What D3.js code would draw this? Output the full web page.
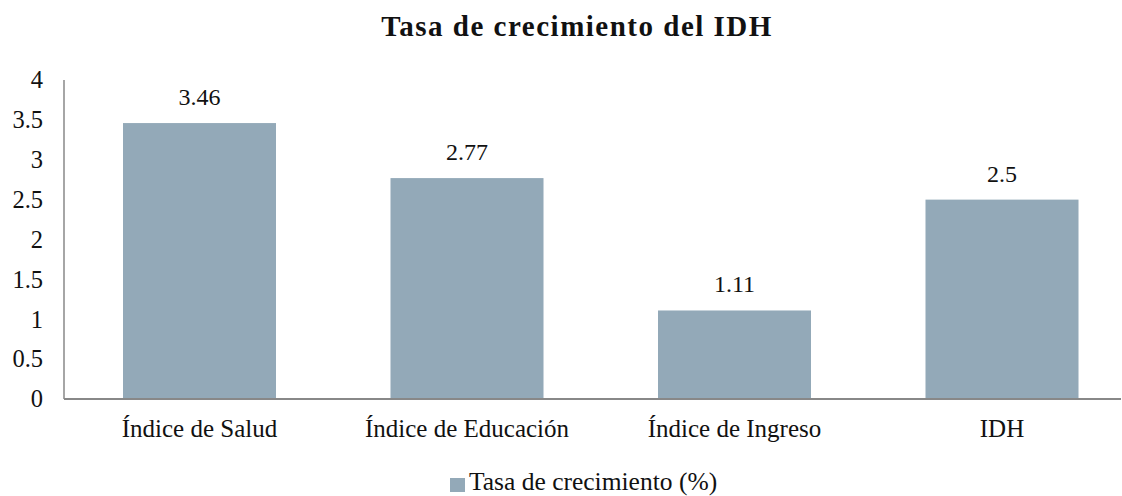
<!DOCTYPE html>
<html>
<head>
<meta charset="utf-8">
<script src="https://cdn.jsdelivr.net/npm/d3@7"></script>
<style>
    body { margin: 0; background: #fff; }
</style>
</head>
<body>
<svg id="chart" width="1122" height="496"></svg>
<script>
(function() {
    'use strict';

    var categories = ['Índice de Salud', 'Índice de Educación', 'Índice de Ingreso', 'IDH'];
    var values = [3.46, 2.77, 1.11, 2.5];
    var yTicks = [0, 0.5, 1, 1.5, 2, 2.5, 3, 3.5, 4];
    var seriesName = 'Tasa de crecimiento (%)';
    var title = 'Tasa de crecimiento del IDH';

    var FONT = "'Liberation Serif', 'Times New Roman', 'DejaVu Serif', serif";

    var svg = d3.select('#chart')
        .style('font-family', FONT);

    /******************************************************************
        scales
     ******************************************************************/
    var x = d3.scaleBand()
        .domain(categories)
        .range([65.75, 1135.75])
        .paddingInner(0.428)
        .paddingOuter(0.214);

    var y = d3.scaleLinear()
        .domain([0, 4])
        .range([399, 80]);

    // title
    svg.append('text')
        .attr('x', 577)
        .attr('y', 36)
        .attr('text-anchor', 'middle')
        .style('font-family', FONT)
        .style('font-size', '29px')
        .style('font-weight', 'bold')
        .style('letter-spacing', '1.5px')
        .style('fill', '#111')
        .text(title);

    // bars
    svg.append('g').selectAll('rect')
        .data(values)
        .join('rect')
            .attr('x', function(d, i) { return x(categories[i]); })
            .attr('y', function(d) { return y(d); })
            .attr('width', x.bandwidth())
            .attr('height', function(d) { return y(0) - y(d); })
            .style('fill', '#93a9b8');

    // value labels
    svg.append('g').selectAll('text')
        .data(values)
        .join('text')
            .attr('x', function(d, i) { return x(categories[i]) + x.bandwidth() / 2; })
            .attr('y', function(d) { return y(d) - 18; })
            .attr('text-anchor', 'middle')
            .style('font-family', FONT)
            .style('font-size', '24px')
            .style('fill', '#111')
            .text(function(d) { return d; });

    // y axis
    var yAxis = svg.append('g')
        .attr('transform', 'translate(64,0)')
        .call(d3.axisLeft(y).tickValues(yTicks).tickSize(0).tickPadding(21)
            .tickFormat(function(d) { return String(d); }));
    yAxis.select('.domain').remove();
    yAxis.selectAll('text')
        .style('font-family', FONT)
        .style('font-size', '24.5px')
        .style('fill', '#111');

    svg.append('line')
        .attr('x1', 64).attr('x2', 64)
        .attr('y1', y(4)).attr('y2', y(0))
        .style('stroke', '#888')
        .style('stroke-width', 1.5);

    // x axis
    var xAxis = svg.append('g')
        .attr('transform', 'translate(0,' + y(0) + ')')
        .call(d3.axisBottom(x).tickSize(0).tickPadding(20));
    xAxis.select('.domain').remove();
    xAxis.selectAll('text')
        .style('font-family', FONT)
        .style('font-size', '25px')
        .style('fill', '#111');

    svg.append('line')
        .attr('x1', 64).attr('x2', 1121)
        .attr('y1', y(0)).attr('y2', y(0))
        .style('stroke', '#888')
        .style('stroke-width', 2);

    // legend
    var legend = svg.append('g').attr('transform', 'translate(450,478)');
    legend.append('rect')
        .attr('width', 15).attr('height', 14)
        .style('fill', '#93a9b8');
    legend.append('text')
        .attr('x', 19)
        .attr('y', 11.5)
        .style('font-family', FONT)
        .style('font-size', '25.5px')
        .style('fill', '#111')
        .text(seriesName);
})();
</script>
</body>
</html>
